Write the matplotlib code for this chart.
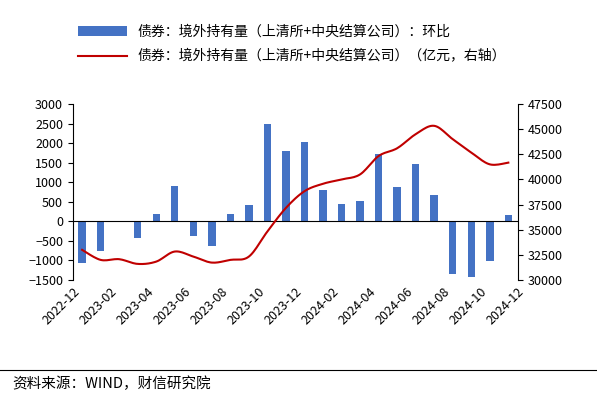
import matplotlib
matplotlib.use('Agg')
import matplotlib.pyplot as plt
import numpy as np

plt.rcParams['font.family'] = ['Noto Sans CJK SC', 'DejaVu Sans']

# 月度数据 2023-01 ~ 2024-12
bars = [-1070, -760, 10, -420, 190, 900, -370, -630, 180, 420, 2500, 1800,
        2020, 800, 450, 510, 1720, 870, 1470, 670, -1350, -1420, -1020, 150]
holding = [33000, 32000, 32070, 31600, 31830, 32830, 32330, 31730, 32000, 32330,
           34830, 37170, 38830, 39570, 40000, 40500, 42330, 43100, 44500, 45330,
           44000, 42670, 41500, 41670]
tick_labels = ['2022-12', '2023-02', '2023-04', '2023-06', '2023-08', '2023-10',
               '2023-12', '2024-02', '2024-04', '2024-06', '2024-08', '2024-10',
               '2024-12']


def catmull(xs, ys, n=12):
    # 平滑曲线（Excel 风格）
    p = np.column_stack([xs, ys]).astype(float)
    p = np.vstack([p[0], p, p[-1]])
    out = []
    t = np.linspace(0, 1, n, endpoint=False)[:, None]
    for i in range(1, len(p) - 2):
        p0, p1, p2, p3 = p[i - 1], p[i], p[i + 1], p[i + 2]
        out.append(0.5 * ((2 * p1) + (-p0 + p2) * t + (2 * p0 - 5 * p1 + 4 * p2 - p3) * t ** 2
                          + (-p0 + 3 * p1 - 3 * p2 + p3) * t ** 3))
    out.append(p[-2][None, :])
    out = np.vstack(out)
    return out[:, 0], out[:, 1]


fig = plt.figure(figsize=(5.97, 4.0), dpi=100)
ax = fig.add_axes([0.122, 0.30, 0.745, 0.44])
x = np.arange(len(bars))
hb = ax.bar(x, bars, width=0.4, color='#4472C4')
ax.axhline(0, color='black', lw=0.8)
ax.set_ylim(-1500, 3000)
ax.set_yticks(range(-1500, 3001, 500))
ax.set_xlim(-0.5, len(bars) - 0.5)
ax.set_xticks(np.arange(0, len(bars) + 1, 2) - 0.5)
ax.set_xticklabels(tick_labels, rotation=45, ha='right', rotation_mode='anchor')
ax.tick_params(axis='x', length=0, pad=4)
ax.tick_params(labelsize=9)
for s in ['top', 'right', 'bottom']:
    ax.spines[s].set_visible(False)

ax2 = ax.twinx()
sx, sy = catmull(x, holding)
hl, = ax2.plot(sx, sy, color='#C00000', lw=1.5)
ax2.set_ylim(30000, 47500)
ax2.set_yticks(range(30000, 47501, 2500))
ax2.tick_params(labelsize=9)
for s in ['top', 'left', 'bottom']:
    ax2.spines[s].set_visible(False)

fig.legend([hb, hl], ['债券：境外持有量（上清所+中央结算公司）：环比',
                      '债券：境外持有量（上清所+中央结算公司）（亿元，右轴）'],
           loc='upper left', bbox_to_anchor=(0.11, 0.97), frameon=False,
           fontsize=10, handlelength=3.5, labelspacing=0.8)

fig.add_artist(plt.Line2D([0.0, 1.0], [0.075, 0.075], color='black', lw=0.8))
fig.text(0.02, 0.04, '资料来源：WIND，财信研究院', fontsize=10.5,
         style='italic', va='center')

fig.savefig('out.png', dpi=100)
